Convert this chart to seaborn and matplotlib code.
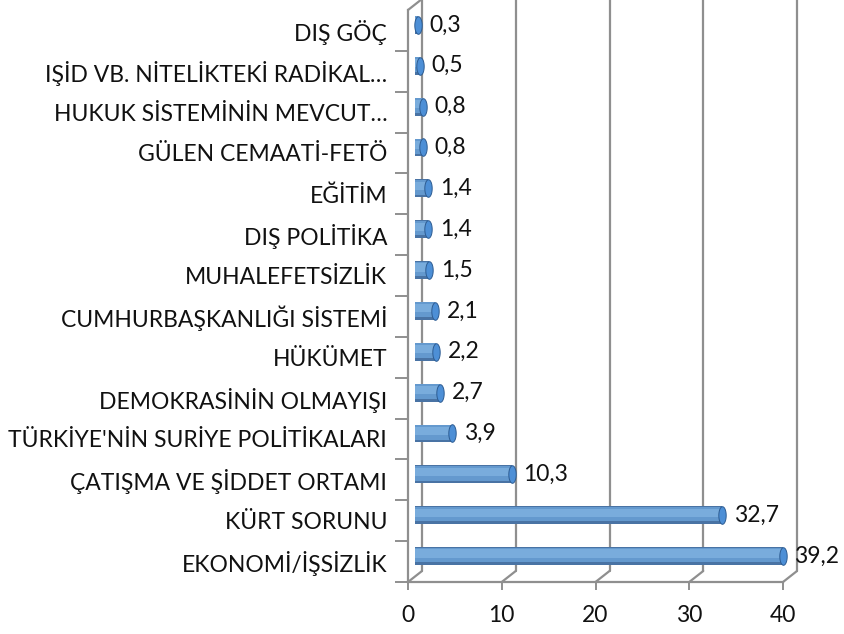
import numpy as np
import pandas as pd
import matplotlib
matplotlib.use("Agg")
from matplotlib import pyplot as plt
from matplotlib import transforms
import seaborn as sns

# categories from top to bottom, values in percent
categories = ["DIŞ GÖÇ", "IŞİD VB. NİTELİKTEKİ RADİKAL…", "HUKUK SİSTEMİNİN MEVCUT…",
              "GÜLEN CEMAATİ-FETÖ", "EĞİTİM", "DIŞ POLİTİKA", "MUHALEFETSİZLİK",
              "CUMHURBAŞKANLIĞI SİSTEMİ", "HÜKÜMET", "DEMOKRASİNİN OLMAYIŞI",
              "TÜRKİYE'NİN SURİYE POLİTİKALARI", "ÇATIŞMA VE ŞİDDET ORTAMI",
              "KÜRT SORUNU", "EKONOMİ/İŞSİZLİK"]
values = [0.3, 0.5, 0.8, 0.8, 1.4, 1.4, 1.5, 2.1, 2.2, 2.7, 3.9, 10.3, 32.7, 39.2]
x_ticks = [0, 10, 20, 30, 40]

df = pd.DataFrame({"konu": categories, "oran": values})

sns.set_style("white")
plt.rcParams["font.family"] = ["Lato", "DejaVu Sans"]
fs = 16.5

fig = plt.figure(figsize=(8.44, 6.34), dpi=100)
ax = fig.add_axes([408 / 844, 52 / 634, 375 / 844, 572 / 634])

grid_col = "#8f8f8f"
back = transforms.offset_copy(ax.transData, fig=fig, x=14, y=11, units="dots")
mid = transforms.offset_copy(ax.transData, fig=fig, x=7, y=5.5, units="dots")
lab = transforms.offset_copy(ax.transData, fig=fig, x=19, y=5.5, units="dots")

# cylinder shading: dark body, then lighter layers shifted upwards
layers = [("#3a72b3", 0.44, 0.0), ("#5399df", 0.36, 1.2), ("#68acec", 0.2, 2.6)]
for col, w, up in layers:
    start = len(ax.patches)
    sns.barplot(data=df, x="oran", y="konu", orient="h", color=col,
                width=w, linewidth=0, ax=ax, zorder=3)
    tr = transforms.offset_copy(ax.transData, fig=fig, x=7, y=5.5 + up, units="dots")
    for p in ax.patches[start:]:
        p.set_transform(tr)
        p.set_clip_on(False)

# end caps
cap = [(np.cos(t) * 0.42, np.sin(t)) for t in np.linspace(0, 2 * np.pi, 40)]
ax.scatter(df["oran"], df["konu"], marker=cap, s=160, color="#4d8fd6",
           edgecolor="#2d5c92", linewidth=0.7, transform=mid, zorder=5, clip_on=False)

ax.set_xlim(0, 40)
ax.set_ylim(len(categories) - 0.5, -0.5)
ax.set_xticks(x_ticks)
ax.set_xticklabels([str(t) for t in x_ticks])

# back wall grid lines and floor diagonals
for xv in x_ticks:
    ax.plot([xv, xv], [len(categories) - 0.5, -0.5], color=grid_col, lw=1.6,
            transform=back, clip_on=False, zorder=1)
    ax.annotate("", xy=(xv, len(categories) - 0.5), xycoords=back,
                xytext=(xv, len(categories) - 0.5), textcoords="data",
                arrowprops=dict(arrowstyle="-", color=grid_col, lw=1.6,
                                shrinkA=0, shrinkB=0), zorder=1)
ax.annotate("", xy=(0, -0.5), xycoords=back, xytext=(0, -0.5), textcoords="data",
            arrowprops=dict(arrowstyle="-", color=grid_col, lw=1.6, shrinkA=0, shrinkB=0))

for s in ["top", "right"]:
    ax.spines[s].set_visible(False)
for s in ["left", "bottom"]:
    ax.spines[s].set_color(grid_col)
    ax.spines[s].set_linewidth(1.6)

ax.set_yticks(np.arange(len(categories)) + 0.5, minor=True)
ax.tick_params(axis="y", which="major", length=0, pad=15, labelsize=fs, labelcolor="#111111")
ax.tick_params(axis="y", which="minor", length=9.5, width=1.4, color=grid_col, left=True)
ax.tick_params(axis="x", which="major", length=5.5, width=1.4, color=grid_col,
               pad=11, labelsize=fs, bottom=True, labelcolor="#111111")
ax.set_xlabel("")
ax.set_ylabel("")

# value labels with comma decimals
for i, v in enumerate(values):
    ax.text(v, i, str(v).replace(".", ","), transform=lab, fontsize=fs,
            ha="left", va="center", zorder=6, color="#111111")

fig.savefig("out.png", dpi=100, facecolor="white")
